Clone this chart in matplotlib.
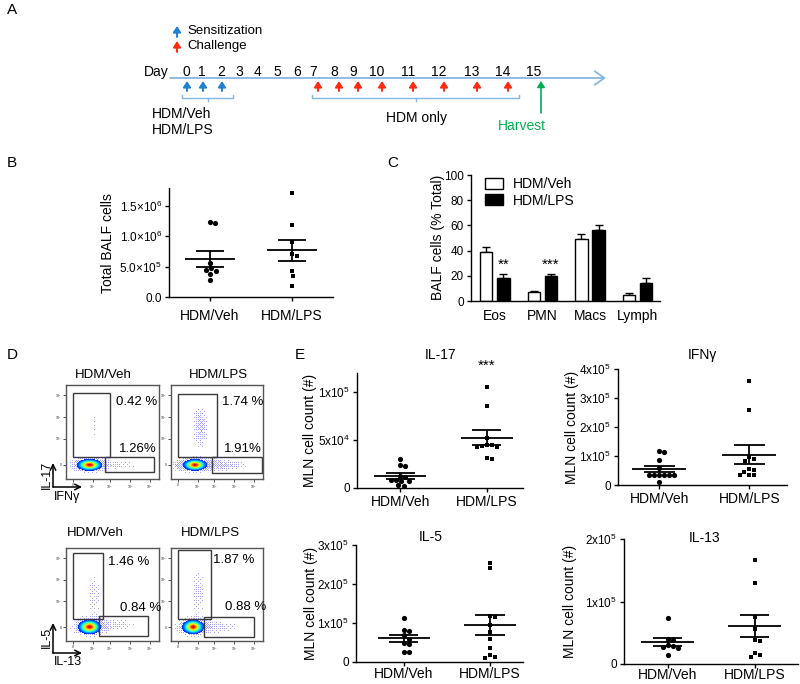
import matplotlib
matplotlib.use('Agg')
import matplotlib.pyplot as plt
from matplotlib.patches import Rectangle, Patch
import numpy as np

plt.rcParams['font.family'] = ['Liberation Sans', 'DejaVu Sans']
plt.rcParams['mathtext.fontset'] = 'custom'
plt.rcParams['mathtext.rm'] = 'Liberation Sans'
plt.rcParams['mathtext.it'] = 'Liberation Sans:italic'

# ---------------- data ----------------
days = list(range(16))
sens_days = [0, 1, 2]
chal_days = [7, 8, 9, 10, 11, 12, 13, 14]
harvest_day = 15

groups = ['HDM/Veh', 'HDM/LPS']

# B: total BALF cells
balf_veh = [1.23e6, 1.21e6, 5.6e5, 4.8e5, 4.4e5, 4.3e5, 3.7e5, 2.8e5]
balf_lps = [1.71e6, 1.18e6, 9.0e5, 7.0e5, 6.8e5, 4.2e5, 3.4e5, 1.8e5]

# C: BALF differential (% total)
cell_types = ['Eos', 'PMN', 'Macs', 'Lymph']
pct_veh = [39, 7.5, 49.5, 5]
pct_veh_err = [4, 0.8, 3.5, 1.3]
pct_lps = [18, 20, 56, 14.5]
pct_lps_err = [3.5, 1.5, 4, 4]
pct_stars = ['**', '***', '', '']

# D: flow gates
flow_titles = ['HDM/Veh', 'HDM/LPS']
flow_top_pct = [['0.42 %', '1.26%'], ['1.74 %', '1.91%']]
flow_bot_pct = [['1.46 %', '0.84 %'], ['1.87 %', '0.88 %']]

# E: MLN cell counts
il17_veh = [3.0e4, 2.4e4, 2.3e4, 1.3e4, 1.1e4, 8.5e3, 8.0e3, 7.5e3, 7.0e3, 3.0e3, 2.5e3]
il17_lps = [1.05e5, 8.6e4, 5.2e4, 4.5e4, 4.5e4, 4.4e4, 4.3e4, 4.3e4, 3.1e4, 3.0e4]
ifng_veh = [1.18e5, 1.15e5, 8.5e4, 6.0e4, 3.5e4, 3.5e4, 3.5e4, 3.5e4, 3.4e4, 3.3e4, 1.2e4]
ifng_lps = [3.6e5, 2.6e5, 9.7e4, 9.1e4, 8.3e4, 5.4e4, 5.2e4, 4.6e4, 3.5e4, 3.4e4, 3.3e4]
il5_veh = [1.13e5, 8.1e4, 7.9e4, 6.8e4, 6.0e4, 4.8e4, 4.6e4, 2.6e4, 2.5e4]
il5_lps = [2.55e5, 2.42e5, 1.18e5, 1.16e5, 9.5e4, 7.8e4, 5.9e4, 3.5e4, 1.7e4, 1.2e4, 1.1e4]
il13_veh = [7.3e4, 4.0e4, 3.9e4, 3.0e4, 2.9e4, 2.7e4, 2.5e4, 1.5e4]
il13_lps = [1.66e5, 1.3e5, 7.6e4, 5.6e4, 3.9e4, 3.7e4, 1.8e4, 1.5e4, 1.2e4]

# ---------------- layout ----------------
W, H = 800, 684
fig = plt.figure(figsize=(W / 100, H / 100), dpi=100)


def ax_px(x0, y0, x1, y1):
    ax = fig.add_axes([x0 / W, 1 - y1 / H, (x1 - x0) / W, (y1 - y0) / H])
    ax.set_facecolor('none')
    return ax


def style(ax):
    for s in ['top', 'right']:
        ax.spines[s].set_visible(False)
    for s in ['left', 'bottom']:
        ax.spines[s].set_linewidth(1.0)
    ax.tick_params(direction='out', length=3, width=1.0, labelsize=8.5, pad=2)


def swarm(ax, vals, d_px):
    # simple beeswarm offsets (in data units of x)
    bb = ax.get_position()
    wpx, hpx = bb.width * W, bb.height * H
    x0, x1 = ax.get_xlim()
    y0, y1 = ax.get_ylim()
    xs, ys = wpx / (x1 - x0), hpx / (y1 - y0)
    vals = np.asarray(vals, float)
    offs = np.zeros(len(vals))
    placed = []
    step = d_px / 4
    for i in np.argsort(vals)[::-1]:
        y = vals[i] * ys
        k = 0
        while True:
            cands = [0.0] if k == 0 else [k * step, -k * step]
            ok = None
            for c in cands:
                if all((c - px) ** 2 + (y - py) ** 2 >= d_px ** 2 for px, py in placed):
                    ok = c
                    break
            if ok is not None:
                placed.append((ok, y))
                offs[i] = ok / xs
                break
            k += 1
    return offs


def dot_plot(ax, veh, lps, ylim, yticks, ylabels, xlim=(-0.5, 1.5), xpad=3):
    style(ax)
    ax.set_xlim(*xlim)
    ax.set_ylim(*ylim)
    for pos, vals, mk, sz in [(0, veh, 'o', 14), (1, lps, 's', 12)]:
        off = swarm(ax, vals, 5.0)
        ax.scatter(pos + off, vals, marker=mk, s=sz, color='black', lw=0, zorder=3, clip_on=False)
        m = np.mean(vals)
        se = np.std(vals, ddof=1) / np.sqrt(len(vals))
        ax.hlines(m, pos - 0.3, pos + 0.3, color='black', lw=1.3, zorder=4)
        ax.hlines([m - se, m + se], pos - 0.17, pos + 0.17, color='black', lw=1.3, zorder=4)
        ax.vlines(pos, m - se, m + se, color='black', lw=1.3, zorder=4)
    ax.set_xticks([0, 1])
    ax.set_xticklabels(groups, fontsize=10)
    ax.tick_params(axis='x', pad=xpad)
    ax.set_yticks(yticks)
    ax.set_yticklabels(ylabels)


# ---- B ----
axB = ax_px(169, 188, 333, 297)
dot_plot(axB, balf_veh, balf_lps, (0, 1.79e6), [0, 5e5, 1e6, 1.5e6],
         ['0.0', '5.0\u00d710$^5$', '1.0\u00d710$^6$', '1.5\u00d710$^6$'], xpad=6)

# ---- C ----
axC = ax_px(471, 175, 660, 301)
style(axC)
xc = np.arange(len(cell_types))
bw, off = 0.26, 0.18
axC.bar(xc - off, pct_veh, bw, color='white', edgecolor='black', lw=1.0, zorder=2)
axC.bar(xc + off, pct_lps, bw, color='black', edgecolor='black', lw=1.0, zorder=2)
axC.errorbar(xc - off, pct_veh, yerr=[np.zeros(4), pct_veh_err], fmt='none', ecolor='black',
             elinewidth=1.0, capsize=3, capthick=1.0, zorder=1)
axC.errorbar(xc + off, pct_lps, yerr=[np.zeros(4), pct_lps_err], fmt='none', ecolor='black',
             elinewidth=1.0, capsize=3, capthick=1.0, zorder=1)
for i, s in enumerate(pct_stars):
    if s:
        axC.text(xc[i] + off, pct_lps[i] + pct_lps_err[i] + 2, s, ha='center', va='bottom', fontsize=11)
axC.set_xlim(-0.5, 3.47)
axC.set_ylim(0, 100)
axC.set_yticks([0, 20, 40, 60, 80, 100])
axC.set_xticks(xc)
axC.set_xticklabels(cell_types, fontsize=10)
axC.tick_params(axis='x', length=0, pad=6)
axC.legend(handles=[Patch(facecolor='white', edgecolor='black', lw=1.0),
                    Patch(facecolor='black', edgecolor='black', lw=1.0)],
           labels=groups, loc='upper left', bbox_to_anchor=(0.075, 0.985), frameon=False,
           fontsize=10, handlelength=1.3, handleheight=0.85, handletextpad=0.7,
           labelspacing=0.2, borderpad=0, borderaxespad=0)

# ---- E ----
axE1 = ax_px(357, 373, 523, 488)
dot_plot(axE1, il17_veh, il17_lps, (0, 1.2e5), [0, 5e4, 1e5], ['0', '5x10$^4$', '1x10$^5$'],
         xlim=(-0.5, 1.42), xpad=2)
axE2 = ax_px(618, 369, 787, 485)
dot_plot(axE2, ifng_veh, ifng_lps, (0, 4e5), [0, 1e5, 2e5, 3e5, 4e5],
         ['0', '1x10$^5$', '2x10$^5$', '3x10$^5$', '4x10$^5$'], xlim=(-0.46, 1.42), xpad=2)
axE3 = ax_px(356, 545, 523, 662)
dot_plot(axE3, il5_veh, il5_lps, (0, 3e5), [0, 1e5, 2e5, 3e5],
         ['0', '1x10$^5$', '2x10$^5$', '3x10$^5$'], xlim=(-0.55, 1.38), xpad=0.5)
axE4 = ax_px(624, 539, 798, 664)
dot_plot(axE4, il13_veh, il13_lps, (0, 2e5), [0, 1e5, 2e5], ['0', '1x10$^5$', '2x10$^5$'],
         xpad=0)

# ---- D: flow plots ----
NG = 94
gx, gy = np.meshgrid((np.arange(NG) + 0.5) / NG, (np.arange(NG) + 0.5) / NG)


def bayer(n):
    m = np.array([[0, 2], [3, 1]])
    while m.shape[0] < n:
        m = np.block([[4 * m, 4 * m + 2], [4 * m + 3, 4 * m + 1]])
    return (m + 0.5) / m.size


# ordered-dither thresholds, floor so faint tails draw nothing
THR = 0.15 + 0.85 * np.tile(bayer(8), (NG // 8 + 1, NG // 8 + 1))[:NG, :NG]


def gauss(c):
    cx, cy, sx, sy, a = c
    return a * np.exp(-0.5 * (((gx - cx) / sx) ** 2 + ((gy - cy) / sy) ** 2))


def flow(ax, core, haze, gates, texts):
    ax.set_xlim(0, 1)
    ax.set_ylim(0, 1)
    dc = gauss(core)
    dh = sum(gauss(h) for h in haze)
    img = np.zeros(dc.shape + (4,))
    img[dh > THR] = [0.3, 0.3, 1.0, 0.5]
    m = dc > 0.08
    img[m] = plt.cm.jet(0.1 + 0.82 * dc[m])
    ax.imshow(img, extent=(0, 1, 0, 1), origin='lower', aspect='auto', interpolation='nearest')
    for (x0, y0, x1, y1) in gates:
        ax.add_patch(Rectangle((x0, y0), x1 - x0, y1 - y0, fill=False, ec='#3a3a3a', lw=1.0))
    for (x, y, s, ha) in texts:
        ax.text(x, y, s, ha=ha, va='center', fontsize=9.5)
    for s in ax.spines.values():
        s.set_color('#555555')
        s.set_linewidth(1.0)
    ax.set_xticks([0.075, 0.29, 0.47, 0.69, 0.9])
    ax.set_xticklabels(['0', '10$^2$', '10$^3$', '10$^4$', '10$^5$'])
    ax.set_yticks([0.15, 0.43, 0.66, 0.89])
    ax.set_yticklabels(['0', '10$^3$', '10$^4$', '10$^5$'])
    ax.tick_params(length=2, width=0.6, labelsize=2.5, colors='#333333', pad=1)


fx = [(66, 159), (171, 263)]
fy = [(385, 479), (548, 641)]
top_core = [(0.25, 0.15, 0.06, 0.028, 1.0), (0.26, 0.15, 0.06, 0.028, 1.0)]
top_haze = [[(0.25, 0.15, 0.13, 0.05, 1.0), (0.6, 0.15, 0.16, 0.035, 0.3), (0.3, 0.55, 0.025, 0.2, 0.22)],
            [(0.25, 0.15, 0.14, 0.05, 1.1), (0.6, 0.15, 0.18, 0.04, 0.45), (0.32, 0.55, 0.06, 0.15, 0.5)]]
top_gates = [[(0.075, 0.234, 0.473, 0.915), (0.419, 0.074, 0.946, 0.234)],
             [(0.076, 0.234, 0.5, 0.904), (0.446, 0.064, 0.99, 0.234)]]
top_txt = [[(0.54, 0.82, 'L'), (0.978, 0.32, 'R')], [(0.554, 0.82, 'L'), (0.99, 0.32, 'R')]]
bot_core = [(0.25, 0.15, 0.055, 0.035, 1.0), (0.24, 0.15, 0.055, 0.035, 1.0)]
bot_haze = [[(0.25, 0.15, 0.11, 0.06, 1.0), (0.3, 0.5, 0.05, 0.2, 0.32), (0.55, 0.17, 0.16, 0.05, 0.35)],
            [(0.24, 0.15, 0.11, 0.06, 1.0), (0.3, 0.52, 0.05, 0.2, 0.35), (0.55, 0.15, 0.16, 0.05, 0.32)]]
bot_gates = [[(0.075, 0.237, 0.398, 0.946), (0.355, 0.054, 0.882, 0.269)],
             [(0.076, 0.237, 0.435, 0.978), (0.359, 0.043, 0.902, 0.258)]]
bot_txt = [[(0.45, 0.85, 'L'), (0.58, 0.355, 'L')], [(0.457, 0.87, 'L'), (0.587, 0.366, 'L')]]

for j in range(2):
    ha = {'L': 'left', 'R': 'right'}
    axt = ax_px(fx[j][0], fy[0][0], fx[j][1], fy[0][1])
    flow(axt, top_core[j], top_haze[j], top_gates[j],
         [(x, y, flow_top_pct[j][k], ha[a]) for k, (x, y, a) in enumerate(top_txt[j])])
    axb = ax_px(fx[j][0], fy[1][0], fx[j][1], fy[1][1])
    flow(axb, bot_core[j], bot_haze[j], bot_gates[j],
         [(x, y, flow_bot_pct[j][k], ha[a]) for k, (x, y, a) in enumerate(bot_txt[j])])

# ---------------- overlay (pixel coordinates) ----------------
ov = fig.add_axes([0, 0, 1, 1])
ov.set_xlim(0, W)
ov.set_ylim(H, 0)
ov.axis('off')


def T(x, y, s, **kw):
    kw.setdefault('fontsize', 10)
    kw.setdefault('va', 'center')
    ov.text(x, y, s, **kw)


def up_arrow(x, ybot, ytop, color, lw=1.4, ms=7):
    ov.annotate('', xy=(x, ytop), xytext=(x, ybot),
                arrowprops=dict(arrowstyle='-|>,head_length=0.5,head_width=0.32', color=color,
                                lw=lw, shrinkA=0, shrinkB=0, mutation_scale=ms))


BLUE, RED, GREEN, LINE = '#1f7fd4', '#ff2a10', '#00b050', '#86b6e2'

# panel letters
for s, x, y in [('A', 7, 10), ('B', 7, 163), ('C', 387, 163), ('D', 7, 355), ('E', 295, 355)]:
    T(x, y, s, fontsize=11, ha='left')

# --- A: timeline ---
day_px = [186, 202, 221, 239, 258, 277, 297, 313, 334, 353, 377, 408, 439, 472, 503, 534]
up_arrow(177, 37, 26, BLUE)
T(187, 31, 'Sensitization', fontsize=9.5, ha='left')
up_arrow(177, 52, 41, RED)
T(187, 46, 'Challenge', fontsize=9.5, ha='left')
ov.annotate('', xy=(606, 78), xytext=(170, 78),
            arrowprops=dict(arrowstyle='->,head_length=0.5,head_width=0.35', color=LINE, lw=1.3,
                            shrinkA=0, shrinkB=0, mutation_scale=14))
T(156, 72, 'Day', ha='center')
for d in days:
    T(day_px[d], 72, str(d), ha='center')
for d in sens_days:
    up_arrow(day_px[d] + 1, 91, 81, BLUE)
for d in chal_days:
    up_arrow(day_px[d] + 5, 91, 81, RED)
up_arrow(day_px[harvest_day] + 7, 113, 81, GREEN, lw=1.2)
T(522, 126, 'Harvest', color=GREEN, ha='center')
for (a, b) in [(182, 233), (312, 519)]:
    ov.plot([a, a, b, b], [95, 98, 98, 95], color=LINE, lw=1.0)
    ov.plot([(a + b) / 2] * 2, [98, 101], color=LINE, lw=1.0)
T(152, 114, 'HDM/Veh', ha='left')
T(152, 130, 'HDM/LPS', ha='left')
T(416, 118, 'HDM only', ha='center')

# --- axis labels ---
T(108, 243, 'Total BALF cells', rotation=90, ha='center')
T(438, 237, 'BALF cells (% Total)', rotation=90, ha='center')
for x, y in [(310, 430), (572, 427), (311, 603), (570, 601)]:
    T(x, y, 'MLN cell count (#)', rotation=90, ha='center')
for s, x, y in [('IL-17', 441, 355), ('IFN\u03b3', 702, 355), ('IL-5', 431, 537), ('IL-13', 705, 538)]:
    T(x, y, s, ha='center')
T(487, 366, '***', ha='center', fontsize=11)

# --- D: titles and axis arrows ---
for j, t in enumerate(flow_titles):
    T(103 if j == 0 else 218, 375, t, ha='center', fontsize=9.5)
    T(95 if j == 0 else 210, 533, t, ha='center', fontsize=9.5)
for (yc, ytop, lv, lh, yv, yh) in [(487, 463, 'IL-17', 'IFN\u03b3', 475, 497),
                                   (653, 623, 'IL-5', 'IL-13', 637, 662)]:
    ov.annotate('', xy=(53, ytop), xytext=(53, yc),
                arrowprops=dict(arrowstyle='->', color='black', lw=1.1, shrinkA=0, shrinkB=0))
    ov.annotate('', xy=(82, yc), xytext=(53, yc),
                arrowprops=dict(arrowstyle='->', color='black', lw=1.1, shrinkA=0, shrinkB=0))
    T(47, yv, lv, rotation=90, ha='center', fontsize=9)
    T(54, yh, lh, ha='left', fontsize=9)

fig.savefig('out.png', dpi=100)
